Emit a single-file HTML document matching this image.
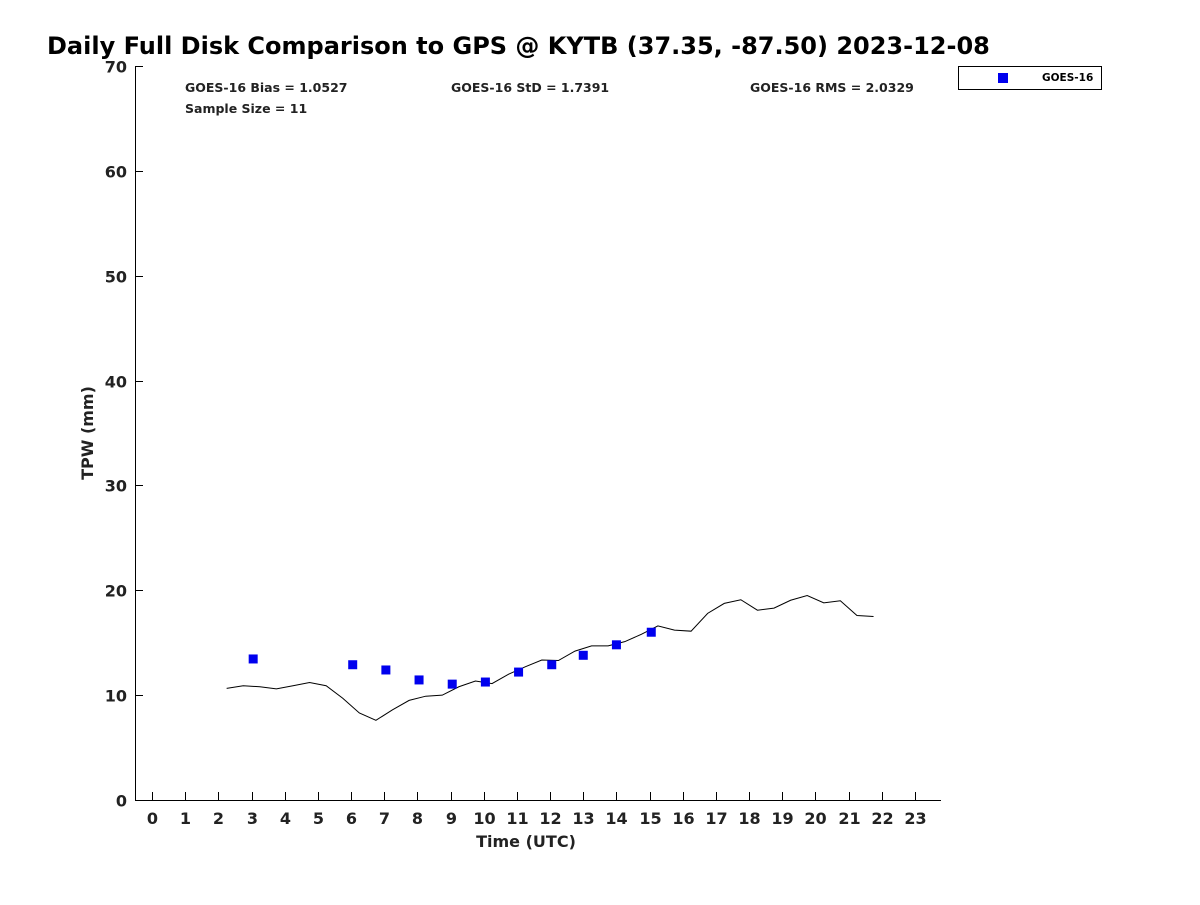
<!DOCTYPE html>
<html><head><meta charset="utf-8"><style>
body{margin:0;background:#fff;}
svg text{font-family:"DejaVu Sans","Liberation Sans",sans-serif;font-weight:bold;fill:#222;}
</style></head><body>
<svg width="1200" height="900" xmlns="http://www.w3.org/2000/svg" id="chart">
<text x="47" y="54" font-size="24" style="fill:#000">Daily Full Disk Comparison to GPS @ KYTB (37.35, -87.50) 2023-12-08</text>
<g id="axes"></g>
<g id="marks"></g>
<text x="185" y="92" font-size="12.5">GOES-16 Bias = 1.0527</text>
<text x="185" y="113" font-size="12.5">Sample Size = 11</text>
<text x="451" y="92" font-size="12.5">GOES-16 StD = 1.7391</text>
<text x="750" y="92" font-size="12.5">GOES-16 RMS = 2.0329</text>
<g>
<rect x="958.5" y="66.5" width="143" height="23" fill="#fff" stroke="#000" stroke-width="1"/>
<rect x="998" y="73" width="10" height="10" fill="#0000ee"/>
<text x="1042" y="81" font-size="10.5" style="fill:#000">GOES-16</text>
</g>
<text x="526" y="847" font-size="16" text-anchor="middle">Time (UTC)</text>
<text transform="translate(93,433) rotate(-90)" font-size="16" text-anchor="middle">TPW (mm)</text>
</svg>
<script>
const xTicks=[0,1,2,3,4,5,6,7,8,9,10,11,12,13,14,15,16,17,18,19,20,21,22,23];
const yTicks=[0,10,20,30,40,50,60,70];
const gpsTimes=[2.25,2.75,3.25,3.75,4.25,4.75,5.25,5.75,6.25,6.75,7.25,7.75,8.25,8.75,9.25,9.75,10.25,10.75,11.25,11.75,12.25,12.75,13.25,13.75,14.25,14.75,15.25,15.75,16.25,16.75,17.25,17.75,18.25,18.75,19.25,19.75,20.25,20.75,21.25,21.75];
const gpsValues=[10.65,10.9,10.8,10.6,10.9,11.2,10.9,9.7,8.3,7.6,8.6,9.5,9.9,10.0,10.8,11.35,11.1,12.0,12.7,13.35,13.3,14.2,14.7,14.7,15.1,15.8,16.6,16.2,16.1,17.8,18.75,19.1,18.1,18.3,19.05,19.5,18.8,19.0,17.6,17.5];
const goesTimes=[3.05,6.05,7.05,8.05,9.05,10.05,11.05,12.05,13.0,14.0,15.05];
const goesValues=[13.45,12.9,12.4,11.45,11.05,11.25,12.2,12.9,13.8,14.8,16.0];
const NS='http://www.w3.org/2000/svg';
const X=h=>152+h*(915-152)/23;
const Y=v=>800-v*(800-66)/70;
function mk(tag,attrs,parent){const e=document.createElementNS(NS,tag);for(const k in attrs)e.setAttribute(k,attrs[k]);parent.appendChild(e);return e;}
const ax=document.getElementById('axes'),mg=document.getElementById('marks');
const xl=mk('line',{x1:135.5,y1:800.5,x2:941,y2:800.5,stroke:'#000'},ax);


const yl=mk('line',{x1:135.5,y1:66,x2:135.5,y2:800.5,stroke:'#000'},ax);


xTicks.forEach(t=>{const x=Math.round(X(t))+0.5;
mk('line',{x1:x,y1:800,x2:x,y2:792,stroke:'#000'},ax);
const tx=mk('text',{x:x,y:824,'font-size':16,'text-anchor':'middle'},ax);tx.textContent=t;

});
yTicks.forEach(t=>{const y=Math.round(Y(t))+0.5;
mk('line',{x1:135,y1:y,x2:143,y2:y,stroke:'#000'},ax);
const tx=mk('text',{x:127,y:y+6,'font-size':16,'text-anchor':'end'},ax);tx.textContent=t;

});
const pl=mk('polyline',{points:gpsTimes.map((t,i)=>X(t)+','+Y(gpsValues[i])).join(' '),fill:'none',stroke:'#000','stroke-width':1},mg);


goesTimes.forEach((t,i)=>{const r=mk('rect',{x:X(t)-4.5,y:Y(goesValues[i])-4.5,width:9,height:9,fill:'#0000ee'},mg);

});
</script>
</body></html>
